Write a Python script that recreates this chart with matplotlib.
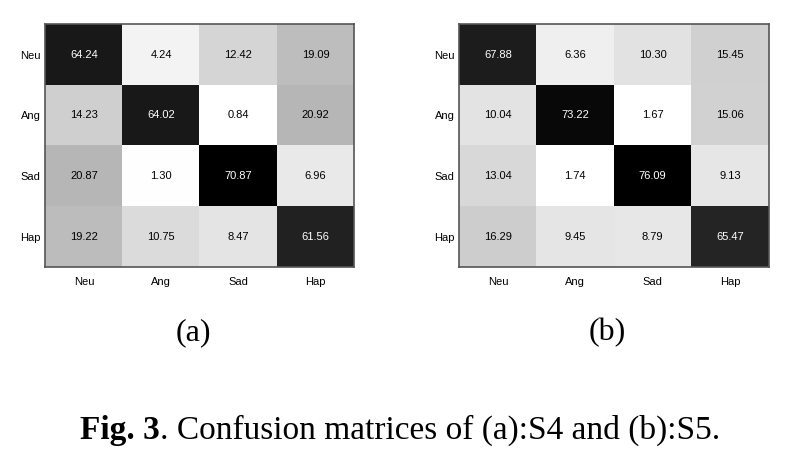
import numpy as np
import matplotlib
matplotlib.use("Agg")
import matplotlib.pyplot as plt

# Метки классов
labels = ["Neu", "Ang", "Sad", "Hap"]

# Матрица ошибок (a): S4
cm_s4 = [
    [64.24, 4.24, 12.42, 19.09],
    [14.23, 64.02, 0.84, 20.92],
    [20.87, 1.30, 70.87, 6.96],
    [19.22, 10.75, 8.47, 61.56],
]

# Матрица ошибок (b): S5
cm_s5 = [
    [67.88, 6.36, 10.30, 15.45],
    [10.04, 73.22, 1.67, 15.06],
    [13.04, 1.74, 76.09, 9.13],
    [16.29, 9.45, 8.79, 65.47],
]

sub_captions = ["(a)", "(b)"]
caption_bold = "Fig. 3"
caption_rest = ". Confusion matrices of (a):S4 and (b):S5."


def draw_matrix(ax, cm):
    cm = np.array(cm)
    vmin, vmax = cm.min(), cm.max()
    ax.imshow(cm, cmap="gray_r", vmin=vmin, vmax=vmax, aspect="auto",
              interpolation="nearest")
    for i in range(cm.shape[0]):
        for j in range(cm.shape[1]):
            frac = (cm[i, j] - vmin) / (vmax - vmin)
            color = "white" if frac > 0.6 else "black"
            ax.text(j, i, f"{cm[i, j]:.2f}", ha="center", va="center",
                    fontsize=8, color=color, family="Liberation Sans")
    ax.set_xticks(range(len(labels)))
    ax.set_yticks(range(len(labels)))
    ax.set_xticklabels(labels, family="Liberation Sans", fontsize=8)
    ax.set_yticklabels(labels, family="Liberation Sans", fontsize=8)
    ax.tick_params(axis="x", length=0, pad=7)
    ax.tick_params(axis="y", length=0, pad=3.5)
    for s in ax.spines.values():
        s.set_color("#555555")
        s.set_linewidth(1.2)


fig = plt.figure(figsize=(7.85, 4.63), dpi=100)
ax1 = fig.add_axes([0.0577, 0.4227, 0.3936, 0.5248])
ax2 = fig.add_axes([0.5851, 0.4227, 0.3941, 0.5248])

draw_matrix(ax1, cm_s4)
draw_matrix(ax2, cm_s5)

# Подписи (a) и (b)
fig.text(193 / 785, 1 - 333 / 463, sub_captions[0], ha="center", va="center",
         fontsize=23, family="Liberation Serif")
fig.text(607 / 785, 1 - 333 / 463, sub_captions[1], ha="center", va="center",
         fontsize=23, family="Liberation Serif")

# Подпись рисунка: жирная часть + обычный текст
renderer = fig.canvas.get_renderer()
y_base = 1 - 439 / 463
t1 = fig.text(0, y_base, caption_bold, ha="left", va="baseline",
              fontsize=24, family="Liberation Serif", weight="bold")
t2 = fig.text(0, y_base, caption_rest, ha="left", va="baseline",
              fontsize=24, family="Liberation Serif")
w1 = t1.get_window_extent(renderer).width
w2 = t2.get_window_extent(renderer).width
x0 = 400 - (w1 + w2) / 2
t1.set_x(x0 / 785)
t2.set_x((x0 + w1) / 785)

fig.savefig("out.png", dpi=100)
